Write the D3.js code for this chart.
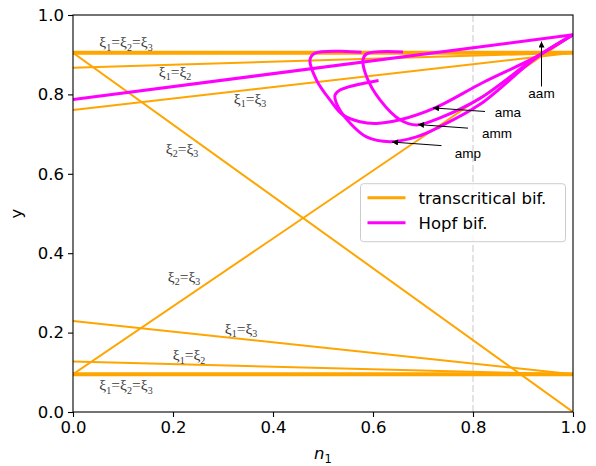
<!DOCTYPE html>
<html>
<head>
<meta charset="utf-8">
<script src="https://cdn.jsdelivr.net/npm/d3@7"></script>
<style>
  body { margin: 0; background: #fff; }
  text { font-family: "DejaVu Sans", sans-serif; }
  .xi { font-family: "Liberation Serif", "DejaVu Serif", serif; fill: #3a3a3a; }
  .ann { font-family: "Liberation Sans", Arial, sans-serif; }
</style>
</head>
<body>
<div id="chart"></div>
<script>
// transcritical bifurcation lines (n1, y)
var tcTripleTop = [[0, 0.905], [1, 0.905]];
var tcTripleBot = [[0, 0.095], [1, 0.095]];
var tc12Top = [[0, 0.867], [1, 0.905]];
var tc13Top = [[0, 0.761], [1, 0.905]];
var tc23Down = [[0, 0.905], [1, 0.0]];
var tc23Up = [[0, 0.095], [1, 0.95]];
var tc13Bot = [[0, 0.229], [1, 0.095]];
var tc12Bot = [[0, 0.127], [1, 0.095]];

// Hopf bifurcation curves
var hopfAam = [[0, 0.787], [1, 0.95]];
var hopfAma = [[0.577, 0.906], [0.484, 0.904], [0.474, 0.887], [0.487, 0.836], [0.514, 0.786],
  [0.540, 0.748], [0.574, 0.731], [0.607, 0.727], [0.654, 0.736], [0.724, 0.766],
  [0.82, 0.83], [0.927, 0.895], [1, 0.95]];
var hopfAmm = [[0.66, 0.907], [0.587, 0.902], [0.58, 0.887], [0.587, 0.845], [0.614, 0.786],
  [0.654, 0.736], [0.687, 0.723], [0.734, 0.741], [0.814, 0.79], [0.927, 0.894], [1, 0.95]];
var hopfAmp = [[0.611, 0.835], [0.534, 0.811], [0.524, 0.798], [0.53, 0.769], [0.554, 0.728],
  [0.587, 0.693], [0.634, 0.681], [0.687, 0.693], [0.734, 0.719], [0.814, 0.775],
  [0.927, 0.893], [1, 0.95]];

// line labels: [n1, y, subscripts]
var xiLabels = [
  [0.106, 0.929, [1, 2, 3]],
  [0.204, 0.854, [1, 2]],
  [0.354, 0.786, [1, 3]],
  [0.218, 0.660, [2, 3]],
  [0.222, 0.338, [2, 3]],
  [0.336, 0.207, [1, 3]],
  [0.232, 0.141, [1, 2]],
  [0.106, 0.065, [1, 2, 3]]
];

// annotations: text, text position, arrow tail, arrow head
var annNames = ["aam", "ama", "amm", "amp"];
var annText = [[0.937, 0.804], [0.87, 0.756], [0.848, 0.703], [0.79, 0.653]];
var annTail = [[0.937, 0.82], [0.824, 0.757], [0.79, 0.715], [0.737, 0.671]];
var annHead = [[0.937, 0.933], [0.72, 0.766], [0.69, 0.724], [0.638, 0.68]];

var ticks = [0, 0.2, 0.4, 0.6, 0.8, 1.0];

var svgWidth = 596;
var svgHeight = 466;
var margin = { top: 15, right: 23, bottom: 54, left: 73 };
var width = svgWidth - margin.left - margin.right;
var height = svgHeight - margin.top - margin.bottom;

var svg = d3.select("#chart")
    .append("svg")
    .attr("width", svgWidth)
    .attr("height", svgHeight);

var chartGroup = svg.append("g")
    .attr("transform", `translate(${margin.left}, ${margin.top})`);

var xScale = d3.scaleLinear().domain([0, 1]).range([0, width]);
var yScale = d3.scaleLinear().domain([0, 1]).range([height, 0]);

var line = d3.line().x(d => xScale(d[0])).y(d => yScale(d[1]));
var curve = d3.line().x(d => xScale(d[0])).y(d => yScale(d[1])).curve(d3.curveCatmullRom.alpha(0.5));

// clip to the axes
svg.append("defs").append("clipPath").attr("id", "clip")
    .append("rect").attr("width", width).attr("height", height);
var plot = chartGroup.append("g").attr("clip-path", "url(#clip)");

// dashed guide at n1 = 0.8
plot.append("line")
    .attr("x1", xScale(0.8)).attr("x2", xScale(0.8))
    .attr("y1", 0).attr("y2", height)
    .attr("stroke", "#c8c8c8")
    .attr("stroke-width", 1)
    .attr("stroke-dasharray", "7,3");

var orange = "#ffa500";
var magenta = "#ff00ff";

[tc12Top, tc13Top, tc23Down, tc23Up, tc13Bot, tc12Bot].forEach(function (d) {
    plot.append("path").datum(d)
        .attr("d", line)
        .attr("fill", "none")
        .attr("stroke", orange)
        .attr("stroke-width", 2);
});
[tcTripleTop, tcTripleBot].forEach(function (d) {
    plot.append("path").datum(d)
        .attr("d", line)
        .attr("fill", "none")
        .attr("stroke", orange)
        .attr("stroke-width", 4);
});

plot.append("path").datum(hopfAam)
    .attr("d", line)
    .attr("fill", "none")
    .attr("stroke", magenta)
    .attr("stroke-width", 3);
[hopfAma, hopfAmm, hopfAmp].forEach(function (d) {
    plot.append("path").datum(d)
        .attr("d", curve)
        .attr("fill", "none")
        .attr("stroke", magenta)
        .attr("stroke-width", 3)
        .attr("stroke-linejoin", "round");
});

// xi labels
xiLabels.forEach(function (d) {
    var t = chartGroup.append("text")
        .attr("class", "xi")
        .attr("x", xScale(d[0]))
        .attr("y", yScale(d[1]) + 4)
        .attr("text-anchor", "middle")
        .attr("font-size", 15.5);
    d[2].forEach(function (s, i) {
        if (i > 0) t.append("tspan").attr("dy", -3.5).text("=");
        t.append("tspan").text("\u03be");
        t.append("tspan").attr("dy", 3.5).attr("font-size", 10).text(s);
    });
});

// annotation arrows
var defs = svg.select("defs");
defs.append("marker")
    .attr("id", "arrow")
    .attr("viewBox", "0 0 10 10")
    .attr("refX", 10).attr("refY", 5)
    .attr("markerWidth", 8).attr("markerHeight", 6)
    .attr("markerUnits", "userSpaceOnUse")
    .attr("orient", "auto")
    .append("path").attr("d", "M0,0 L10,5 L0,10 z").attr("fill", "#000");

annNames.forEach(function (name, i) {
    chartGroup.append("line")
        .attr("x1", xScale(annTail[i][0])).attr("y1", yScale(annTail[i][1]))
        .attr("x2", xScale(annHead[i][0])).attr("y2", yScale(annHead[i][1]))
        .attr("stroke", "#000")
        .attr("stroke-width", 1)
        .attr("marker-end", "url(#arrow)");
    chartGroup.append("text")
        .attr("class", "ann")
        .attr("x", xScale(annText[i][0]))
        .attr("y", yScale(annText[i][1]) + 5)
        .attr("text-anchor", "middle")
        .attr("font-size", 13.5)
        .text(name);
});

// axes
var bottomAxis = d3.axisBottom(xScale).tickValues(ticks).tickFormat(d3.format(".1f")).tickSizeOuter(0).tickSize(5).tickPadding(4);
var leftAxis = d3.axisLeft(yScale).tickValues(ticks).tickFormat(d3.format(".1f")).tickSizeOuter(0).tickSize(5).tickPadding(4);

var xAxis = chartGroup.append("g")
    .attr("transform", `translate(0, ${height})`)
    .call(bottomAxis);
var yAxis = chartGroup.append("g").call(leftAxis);

[xAxis, yAxis].forEach(function (a) {
    a.select(".domain").remove();
    a.selectAll("text").attr("font-size", 16.5).attr("fill", "#000").attr("font-family", "DejaVu Sans");
    a.selectAll("line").attr("stroke", "#000").attr("stroke-width", 1.1);
});

// frame
chartGroup.append("rect")
    .attr("width", width).attr("height", height)
    .attr("fill", "none")
    .attr("stroke", "#000")
    .attr("stroke-width", 1.1);

// axis labels
var xLabel = chartGroup.append("text")
    .attr("x", width / 2)
    .attr("y", height + 47)
    .attr("text-anchor", "middle")
    .attr("font-size", 16.5);
xLabel.append("tspan").attr("font-style", "italic").text("n");
xLabel.append("tspan").attr("dy", 4).attr("font-size", 11.5).text("1");

chartGroup.append("text")
    .attr("transform", "rotate(-90)")
    .attr("x", -height / 2)
    .attr("y", -51)
    .attr("text-anchor", "middle")
    .attr("font-size", 16.5)
    .text("y");

// legend
var legend = chartGroup.append("g")
    .attr("transform", `translate(${xScale(0.575)}, ${yScale(0.575)})`);
legend.append("rect")
    .attr("width", 205).attr("height", 58)
    .attr("rx", 3)
    .attr("fill", "#fff").attr("fill-opacity", 0.8)
    .attr("stroke", "#cccccc");
var legendItems = [["transcritical bif.", orange], ["Hopf bif.", magenta]];
legendItems.forEach(function (d, i) {
    legend.append("line")
        .attr("x1", 7).attr("x2", 45)
        .attr("y1", 14 + i * 25).attr("y2", 14 + i * 25)
        .attr("stroke", d[1]).attr("stroke-width", 3);
    legend.append("text")
        .attr("x", 58).attr("y", 20 + i * 25)
        .attr("font-size", 16.5)
        .text(d[0]);
});
</script>
</body>
</html>
